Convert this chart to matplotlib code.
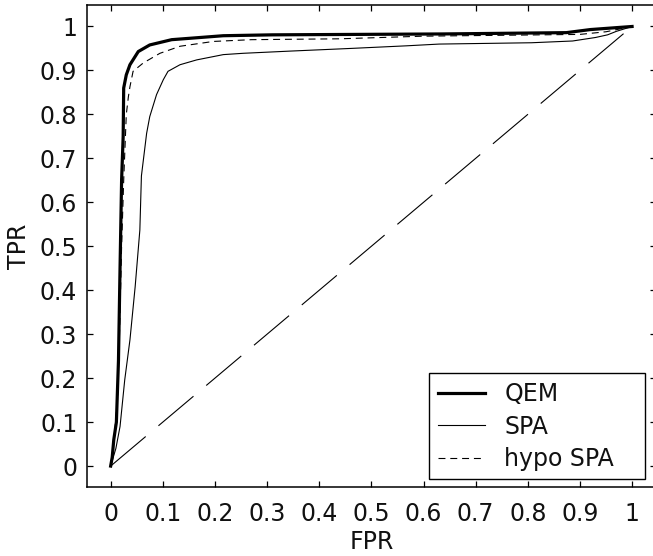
import matplotlib
matplotlib.use('Agg')
import matplotlib.pyplot as plt
from matplotlib.patches import Rectangle

plt.rcParams['font.family'] = ['DejaVu Sans']
plt.rcParams['lines.scale_dashes'] = False

# ROC curves
fpr_qem = [0, 0.003, 0.006, 0.011, 0.015, 0.018, 0.021, 0.024, 0.025, 0.03, 0.037, 0.053,
           0.075, 0.117, 0.216, 0.31, 0.635, 0.874, 0.92, 1.0]
tpr_qem = [0, 0.02, 0.06, 0.1, 0.24, 0.45, 0.65, 0.75, 0.86, 0.89, 0.913, 0.943,
           0.958, 0.97, 0.979, 0.981, 0.983, 0.986, 0.993, 1.0]

fpr_spa = [0, 0.01, 0.018, 0.027, 0.037, 0.047, 0.056, 0.059, 0.069, 0.075, 0.088, 0.101,
           0.11, 0.133, 0.165, 0.216, 0.254, 0.344, 0.459, 0.567, 0.63, 0.807, 0.886,
           0.93, 0.953, 0.97, 1.0]
tpr_spa = [0, 0.04, 0.09, 0.196, 0.287, 0.408, 0.537, 0.66, 0.757, 0.795, 0.845, 0.879,
           0.898, 0.913, 0.924, 0.936, 0.939, 0.944, 0.95, 0.956, 0.96, 0.963, 0.967,
           0.975, 0.981, 0.989, 1.0]

fpr_hyp = [0, 0.004, 0.008, 0.013, 0.017, 0.021, 0.025, 0.03, 0.034, 0.037, 0.043, 0.0625,
           0.0945, 0.133, 0.197, 0.27, 0.44, 0.6, 0.9, 0.95, 1.0]
tpr_hyp = [0, 0.03, 0.08, 0.15, 0.3, 0.5, 0.65, 0.8, 0.84, 0.863, 0.898, 0.917,
           0.939, 0.955, 0.966, 0.97, 0.972, 0.978, 0.982, 0.988, 1.0]

chance = [0, 1]
ticks = [0, 0.1, 0.2, 0.3, 0.4, 0.5, 0.6, 0.7, 0.8, 0.9, 1]
tick_labels = ['0', '0.1', '0.2', '0.3', '0.4', '0.5', '0.6', '0.7', '0.8', '0.9', '1']

fs = 17

fig = plt.figure(figsize=(6.53, 5.56), dpi=100)
ax = fig.add_axes([0.1332, 0.1246, 0.871, 0.8665])

ax.plot(fpr_qem, tpr_qem, color='k', lw=2.3, label='QEM')
ax.plot(fpr_spa, tpr_spa, color='k', lw=0.8, label='SPA')
ax.plot(fpr_hyp, tpr_hyp, color='k', lw=0.8, dashes=(5, 3.5), label='hypo SPA')
ax.plot(chance, chance, color='k', lw=0.8, dashes=(33, 12))

ax.set_xlim(-0.0454, 1.0454)
ax.set_ylim(-0.047, 1.049)
ax.set_xticks(ticks)
ax.set_xticklabels(tick_labels)
ax.set_yticks(ticks)
ax.set_yticklabels(tick_labels)
ax.tick_params(direction='in', length=4, width=0.9, top=True, right=True,
               labelsize=fs, labelcolor='#111111')
ax.tick_params(axis='x', pad=11)
ax.tick_params(axis='y', pad=7)
for s in ax.spines.values():
    s.set_linewidth(1.1)

ax.set_xlabel('FPR', fontsize=fs, labelpad=3, color='#111111')
ax.set_ylabel('TPR', fontsize=fs, labelpad=6, color='#111111')

# legend box drawn separately (wider than matplotlib's own frame, like the original)
ax.add_patch(Rectangle((0.601, 0.016), 0.380, 0.220, transform=ax.transAxes,
                       facecolor='white', edgecolor='k', lw=1.0, zorder=4))
leg = ax.legend(loc='upper left', bbox_to_anchor=(0.601, 0.236), borderaxespad=0,
                fontsize=fs, frameon=False,
                handlelength=2.0, handletextpad=0.8, labelspacing=0.35,
                borderpad=0.4)
leg.set_zorder(5)
for t in leg.get_texts():
    t.set_color('#111111')

fig.savefig('out.png', dpi=100)
